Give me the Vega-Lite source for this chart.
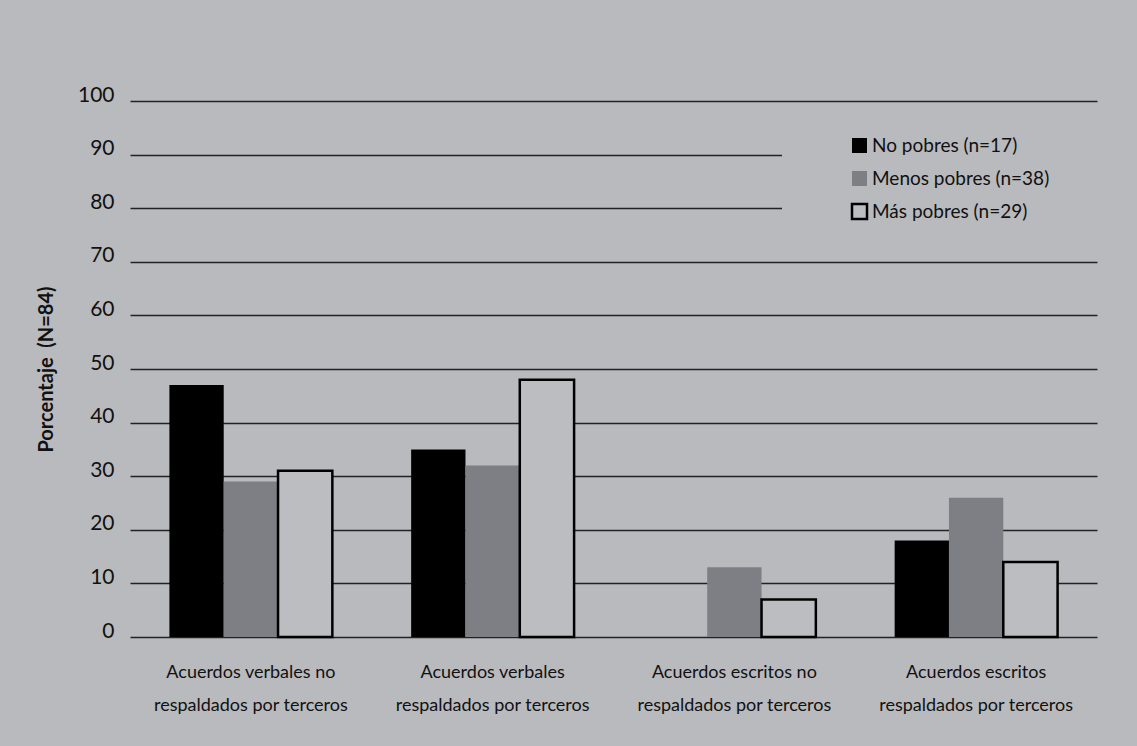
{
  "$schema": "https://vega.github.io/schema/vega-lite/v6.json",
  "width": 967,
  "height": 536,
  "autosize": {"type": "none"},
  "padding": {"left": 130, "top": 101, "right": 40, "bottom": 109},
  "background": "#b9babe",
  "config": {"font": "Lato", "view": {"stroke": null}},
  "data": {
    "values": [
      {"categoria": "Acuerdos verbales no respaldados por terceros", "serie": "No pobres (n=17)", "porcentaje": 47},
      {"categoria": "Acuerdos verbales no respaldados por terceros", "serie": "Menos pobres (n=38)", "porcentaje": 29},
      {"categoria": "Acuerdos verbales no respaldados por terceros", "serie": "Más pobres (n=29)", "porcentaje": 31},
      {"categoria": "Acuerdos verbales respaldados por terceros", "serie": "No pobres (n=17)", "porcentaje": 35},
      {"categoria": "Acuerdos verbales respaldados por terceros", "serie": "Menos pobres (n=38)", "porcentaje": 32},
      {"categoria": "Acuerdos verbales respaldados por terceros", "serie": "Más pobres (n=29)", "porcentaje": 48},
      {"categoria": "Acuerdos escritos no respaldados por terceros", "serie": "No pobres (n=17)", "porcentaje": 0},
      {"categoria": "Acuerdos escritos no respaldados por terceros", "serie": "Menos pobres (n=38)", "porcentaje": 13},
      {"categoria": "Acuerdos escritos no respaldados por terceros", "serie": "Más pobres (n=29)", "porcentaje": 7},
      {"categoria": "Acuerdos escritos respaldados por terceros", "serie": "No pobres (n=17)", "porcentaje": 18},
      {"categoria": "Acuerdos escritos respaldados por terceros", "serie": "Menos pobres (n=38)", "porcentaje": 26},
      {"categoria": "Acuerdos escritos respaldados por terceros", "serie": "Más pobres (n=29)", "porcentaje": 14}
    ]
  },
  "mark": {"type": "bar", "strokeWidth": 2.5},
  "encoding": {
    "x": {
      "field": "categoria",
      "type": "nominal",
      "sort": [
        "Acuerdos verbales no respaldados por terceros",
        "Acuerdos verbales respaldados por terceros",
        "Acuerdos escritos no respaldados por terceros",
        "Acuerdos escritos respaldados por terceros"
      ],
      "scale": {"paddingInner": 0.326, "paddingOuter": 0.163},
      "axis": {
        "title": null,
        "labelAngle": 0,
        "ticks": false,
        "domain": false,
        "labelFontSize": 18,
        "labelColor": "#111111",
        "labelPadding": 26,
        "labelLineHeight": 33,
        "labelLimit": 0,
        "labelExpr": "[replace(datum.label, ' respaldados por terceros', ''), 'respaldados por terceros']"
      }
    },
    "xOffset": {
      "field": "serie",
      "sort": ["No pobres (n=17)", "Menos pobres (n=38)", "Más pobres (n=29)"]
    },
    "y": {
      "field": "porcentaje",
      "type": "quantitative",
      "scale": {"domain": [0, 100]},
      "axis": {
        "values": [0, 10, 20, 30, 40, 50, 60, 70, 80, 90, 100],
        "title": "Porcentaje\u00a0\u00a0(N=84)",
        "titleFontSize": 20,
        "titleFontWeight": "bold",
        "titleColor": "#111111",
        "titlePadding": 21,
        "ticks": false,
        "domain": false,
        "labelFontSize": 21,
        "labelColor": "#111111",
        "labelPadding": 16,
        "labelBaseline": "alphabetic",
        "labelOffset": 0,
        "gridColor": "#222222",
        "gridWidth": 1.3
      }
    },
    "fill": {
      "field": "serie",
      "type": "nominal",
      "scale": {
        "domain": ["No pobres (n=17)", "Menos pobres (n=38)", "Más pobres (n=29)"],
        "range": ["#000000", "#7e7f84", "#bcbdc1"]
      },
      "legend": {
        "orient": "none",
        "legendX": 652,
        "legendY": 15,
        "title": "MMM",
        "titleOrient": "right",
        "titleFontSize": 18,
        "titleColor": "rgba(0,0,0,0)",
        "titleOpacity": 0,
        "titlePadding": 4,
        "padding": 20,
        "fillColor": "#b9babe",
        "symbolType": "square",
        "symbolSize": 225,
        "symbolStrokeWidth": 2.5,
        "symbolOffset": 48,
        "labelFontSize": 19,
        "labelLimit": 0,
        "labelColor": "#111111",
        "labelOffset": 3,
        "rowPadding": 8
      }
    },
    "stroke": {
      "field": "serie",
      "type": "nominal",
      "scale": {
        "domain": ["No pobres (n=17)", "Menos pobres (n=38)", "Más pobres (n=29)"],
        "range": ["transparent", "transparent", "#000000"]
      },
      "legend": {
        "orient": "none",
        "legendX": 652,
        "legendY": 15,
        "title": "MMM",
        "titleOrient": "right",
        "titleFontSize": 18,
        "titleColor": "rgba(0,0,0,0)",
        "titleOpacity": 0,
        "titlePadding": 4,
        "padding": 20,
        "fillColor": "#b9babe",
        "symbolType": "square",
        "symbolSize": 225,
        "symbolStrokeWidth": 2.5,
        "symbolOffset": 48,
        "labelFontSize": 19,
        "labelLimit": 0,
        "labelColor": "#111111",
        "labelOffset": 3,
        "rowPadding": 8
      }
    }
  }
}
